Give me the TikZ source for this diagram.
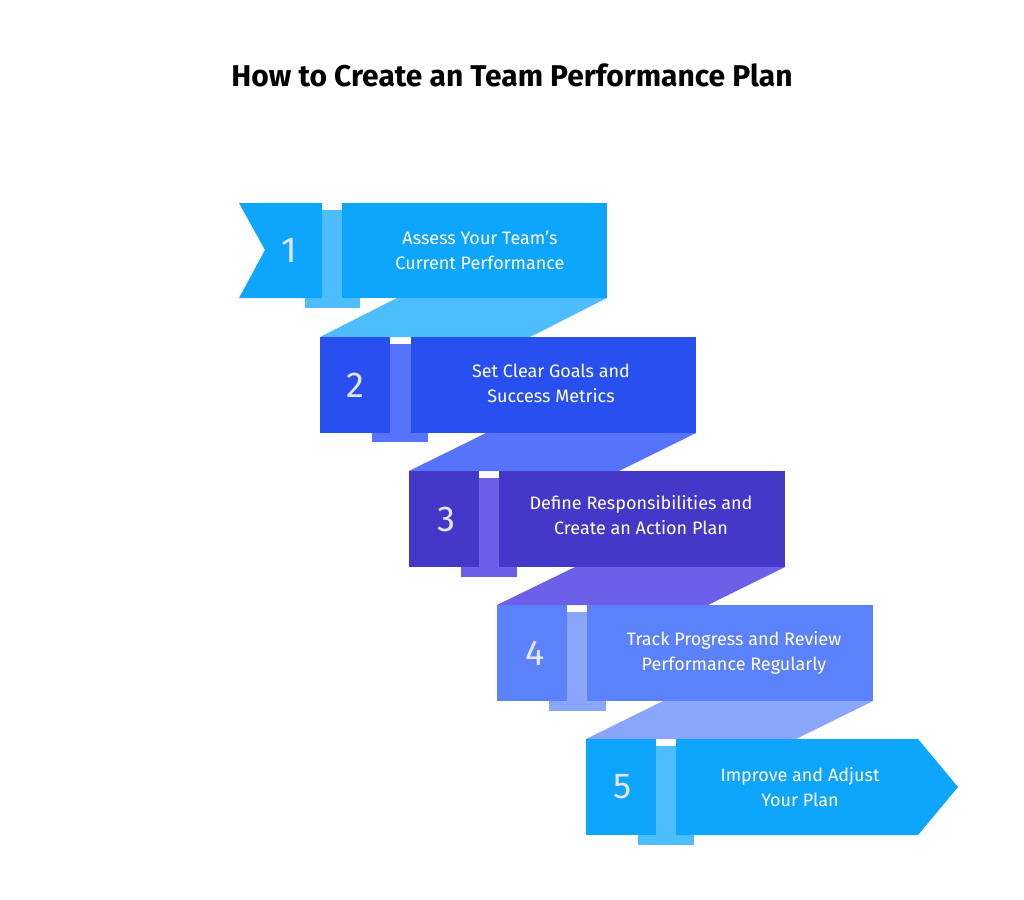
\documentclass[tikz,border=0pt]{standalone}
\usepackage{fontspec}
\setmainfont{Fira Sans}
\begin{document}
\begin{tikzpicture}[x=1pt,y=-1pt,
  lbl/.style={text=white,font=\fontsize{18}{25}\selectfont,align=center},
  num/.style={text=white!90!blue,font=\fontsize{36}{36}\selectfont\light}]
\providecommand\light{\fontseries{l}\selectfont}
\fill[white] (0,0) rectangle (1024,899);
\node[font=\fontsize{30}{34}\selectfont\bfseries] (title) at (512,75) {How to Create an Team Performance Plan};
\definecolor{m1}{HTML}{0EA5FD}\definecolor{s1}{HTML}{4DBDFC}
\definecolor{m2}{HTML}{2850F0}\definecolor{s2}{HTML}{5574FB}
\definecolor{m3}{HTML}{4438C8}\definecolor{s3}{HTML}{6C5FE8}
\definecolor{m4}{HTML}{5B82FA}\definecolor{s4}{HTML}{8AA6FB}
% bands
\fill[s1] (397,298)--(607,298)--(530,337)--(320,337)--cycle;
\fill[s2] (486,433)--(696,433)--(619,471)--(409,471)--cycle;
\fill[s3] (575,567)--(785,567)--(708,605)--(497,605)--cycle;
\fill[s4] (663,701)--(873,701)--(796,739)--(586,739)--cycle;
% row 1
\fill[s1] (322,210) rectangle (342,308); \fill[s1] (305,298) rectangle (360,308);
\fill[m1] (239,203)--(322,203)--(322,298)--(239,298)--(265,250)--cycle;
\fill[m1] (342,203) rectangle (607,298);
\node[num] (n1) at (289,250) {1};
\node[lbl] (t1) at (480,250) {Assess Your Team's\\Current Performance};
% row 2
\fill[s2] (390,344) rectangle (411,442); \fill[s2] (372,432) rectangle (428,442);
\fill[m2] (320,337) rectangle (390,433);
\fill[m2] (411,337) rectangle (696,433);
\node[num] (n2) at (355,385) {2};
\node[lbl] (t2) at (551,383) {Set Clear Goals and\\Success Metrics};
% row 3
\fill[s3] (479,478) rectangle (499,577); \fill[s3] (461,567) rectangle (517,577);
\fill[m3] (409,471) rectangle (479,567);
\fill[m3] (499,471) rectangle (785,567);
\node[num] (n3) at (446,519) {3};
\node[lbl] (t3) at (641,515) {Define Responsibilities and\\Create an Action Plan};
% row 4
\fill[s4] (567,612) rectangle (587,711); \fill[s4] (549,701) rectangle (606,711);
\fill[m4] (497,605) rectangle (567,701);
\fill[m4] (587,605) rectangle (873,701);
\node[num] (n4) at (535,653) {4};
\node[lbl] (t4) at (734,653) {Track Progress and Review\\Performance Regularly};
% row 5
\fill[s1] (656,746) rectangle (676,845); \fill[s1] (638,835) rectangle (694,845);
\fill[m1] (586,739) rectangle (656,835);
\fill[m1] (676,739)--(918,739)--(958,787)--(918,835)--(676,835)--cycle;
\node[num] (n5) at (623,787) {5};
\node[lbl] (t5) at (800,787) {Improve and Adjust\\Your Plan};
\end{tikzpicture}
\end{document}
